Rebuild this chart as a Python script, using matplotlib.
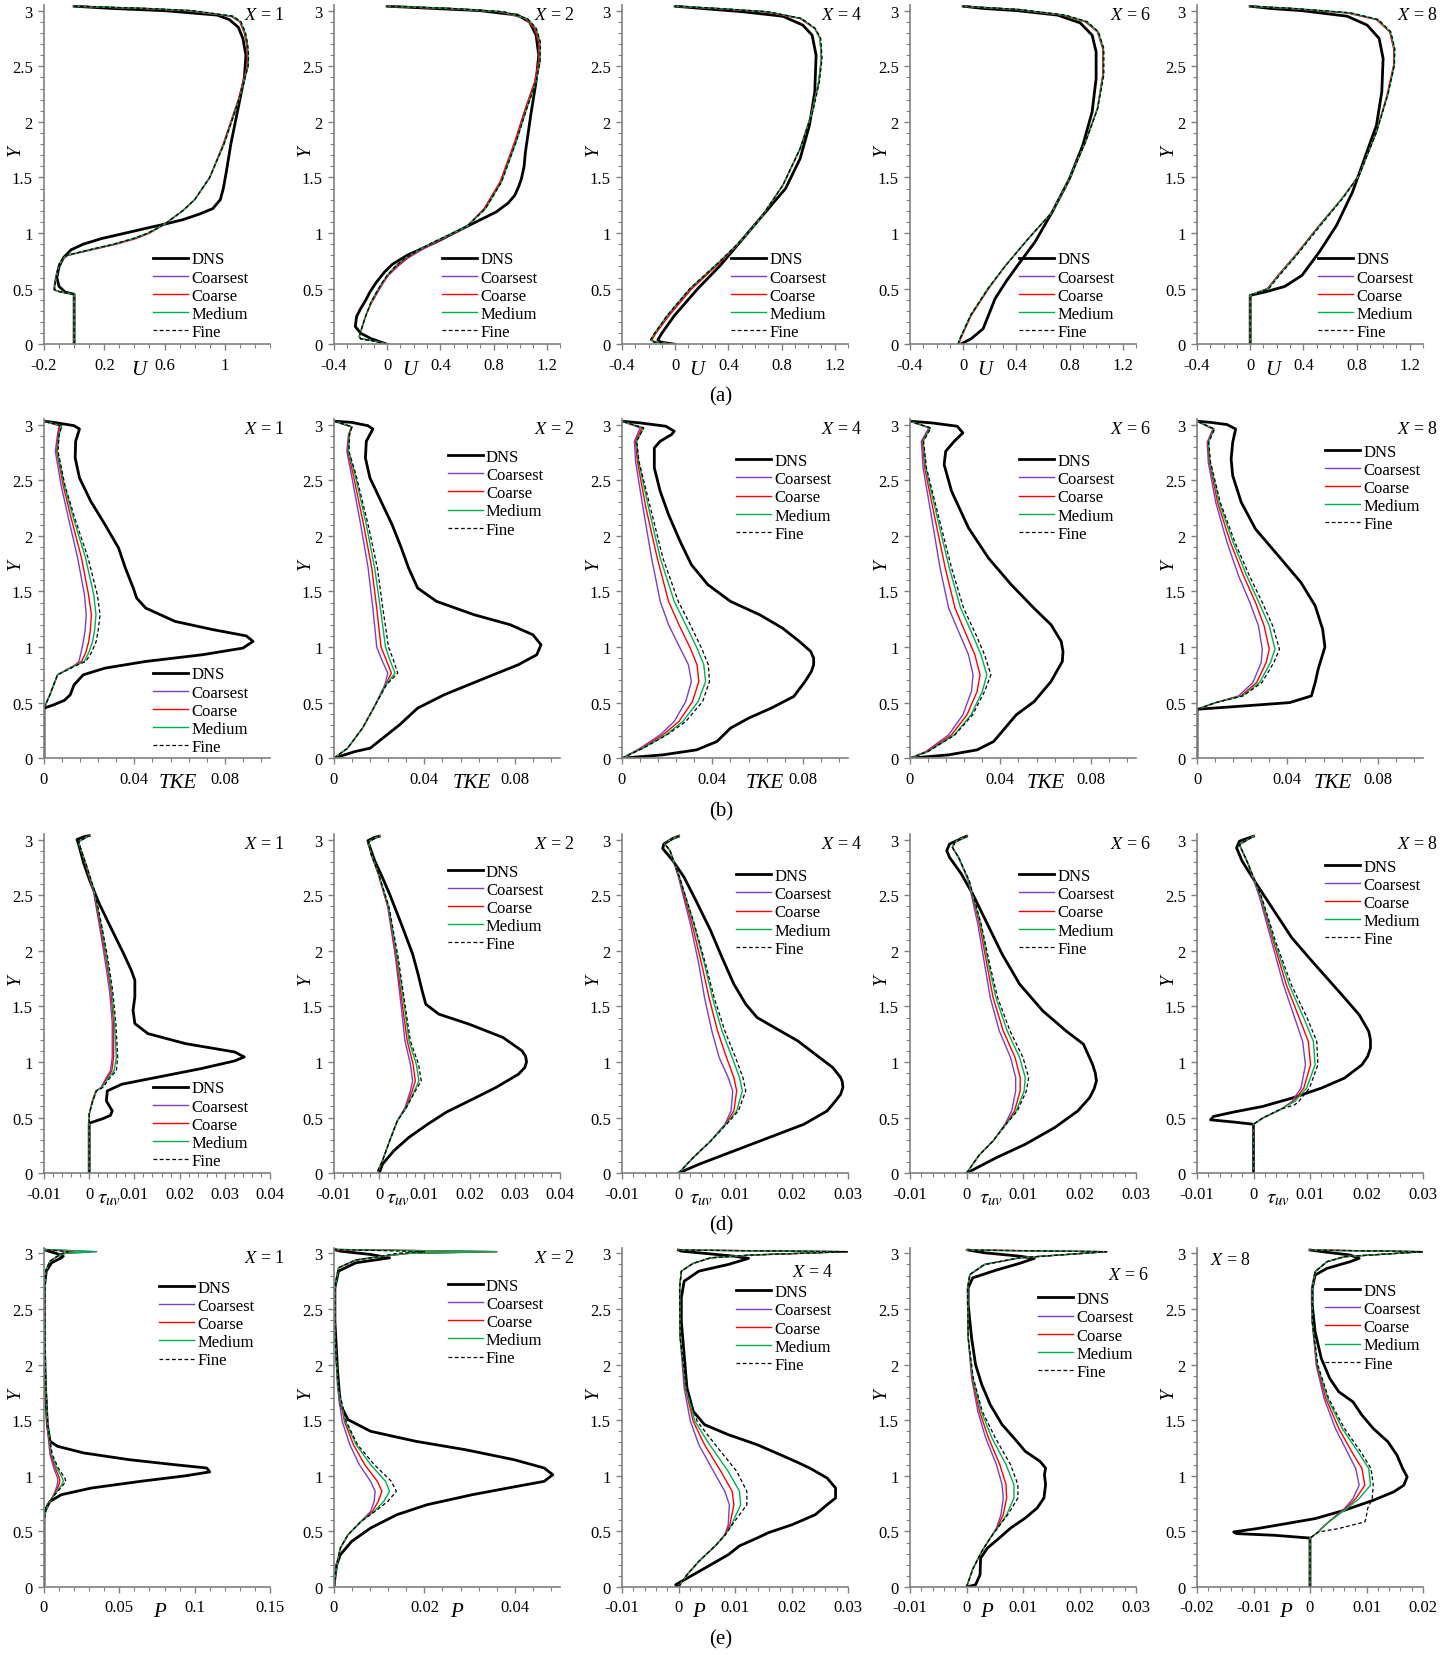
import matplotlib
matplotlib.use("Agg")
import matplotlib.pyplot as plt
from matplotlib.ticker import FixedLocator, MultipleLocator, FuncFormatter
from matplotlib.lines import Line2D

plt.rcParams['font.family'] = ['Liberation Serif', 'DejaVu Serif']
plt.rcParams['mathtext.fontset'] = 'stix'

# ---------------- (a) U profiles ----------------
A1_Y_DNS = [0, 0.45, 0.47, 0.52, 0.6, 0.7, 0.78, 0.85, 0.9, 0.95, 1.0, 1.05, 1.08, 1.12, 1.17, 1.22, 1.3, 1.4, 1.55, 1.8, 2.0, 2.2, 2.4, 2.6, 2.75, 2.85, 2.92, 2.96, 3.0, 3.02, 3.04]
A1_DNS = [0, 0, -0.06, -0.10, -0.115, -0.10, -0.07, -0.02, 0.06, 0.18, 0.34, 0.5, 0.6, 0.72, 0.83, 0.92, 0.97, 0.99, 1.01, 1.04, 1.07, 1.1, 1.13, 1.14, 1.12, 1.09, 1.03, 0.95, 0.6, 0.25, 0.0]
A1_Y = [0, 0.45, 0.47, 0.49, 0.55, 0.65, 0.72, 0.77, 0.8, 0.85, 0.9, 0.95, 1.0, 1.08, 1.2, 1.3, 1.5, 1.8, 2.0, 2.2, 2.4, 2.5, 2.6, 2.7, 2.8, 2.9, 2.95, 3.0, 3.02, 3.04]
A1_COARSEST = [0, 0, -0.09, -0.135, -0.13, -0.115, -0.1, -0.07, -0.04, 0.12, 0.28, 0.41, 0.5, 0.6, 0.72, 0.8, 0.9, 0.99, 1.04, 1.09, 1.13, 1.15, 1.15, 1.145, 1.13, 1.1, 1.04, 0.75, 0.45, 0.0]
A1_COARSE = [0, 0, -0.09, -0.132, -0.128, -0.113, -0.1, -0.072, -0.045, 0.11, 0.27, 0.4, 0.5, 0.6, 0.72, 0.8, 0.9, 0.99, 1.04, 1.09, 1.13, 1.15, 1.15, 1.145, 1.13, 1.1, 1.045, 0.76, 0.46, 0.0]
A1_MEDIUM = [0, 0, -0.09, -0.13, -0.126, -0.112, -0.1, -0.075, -0.05, 0.1, 0.26, 0.39, 0.49, 0.6, 0.72, 0.8, 0.9, 0.995, 1.045, 1.095, 1.135, 1.155, 1.155, 1.15, 1.135, 1.105, 1.05, 0.78, 0.48, 0.0]
A1_FINE = [0, 0, -0.09, -0.13, -0.126, -0.112, -0.1, -0.075, -0.05, 0.1, 0.26, 0.39, 0.49, 0.6, 0.72, 0.8, 0.9, 0.995, 1.045, 1.095, 1.135, 1.155, 1.158, 1.152, 1.138, 1.108, 1.055, 0.79, 0.49, 0.0]

A2_Y_DNS = [0, 0.05, 0.1, 0.16, 0.25, 0.32, 0.4, 0.47, 0.56, 0.65, 0.72, 0.8, 0.92, 1.06, 1.19, 1.27, 1.34, 1.42, 1.49, 1.6, 1.73, 2.06, 2.36, 2.6, 2.78, 2.9, 2.96, 3.0, 3.02, 3.04]
A2_DNS = [0, -0.12, -0.2, -0.24, -0.23, -0.2, -0.16, -0.13, -0.08, -0.02, 0.04, 0.15, 0.37, 0.6, 0.82, 0.91, 0.96, 0.99, 1.01, 1.03, 1.04, 1.08, 1.12, 1.14, 1.12, 1.07, 0.98, 0.7, 0.35, 0]
A2_Y = [0, 0.03, 0.05, 0.07, 0.15, 0.26, 0.37, 0.47, 0.55, 0.62, 0.7, 0.77, 0.85, 0.92, 1.06, 1.22, 1.46, 1.82, 2.12, 2.36, 2.54, 2.72, 2.84, 2.93, 2.99, 3.02, 3.04]
A2_COARSEST = [0, -0.1, -0.2, -0.21, -0.19, -0.16, -0.12, -0.07, -0.03, 0.01, 0.08, 0.15, 0.26, 0.37, 0.6, 0.73, 0.85, 0.96, 1.04, 1.11, 1.14, 1.14, 1.11, 1.04, 0.85, 0.45, 0]
A2_COARSE = [0, -0.1, -0.2, -0.21, -0.19, -0.16, -0.12, -0.075, -0.035, 0.005, 0.07, 0.14, 0.25, 0.36, 0.6, 0.73, 0.85, 0.96, 1.04, 1.11, 1.14, 1.14, 1.11, 1.04, 0.86, 0.46, 0]
A2_MEDIUM = [0, -0.1, -0.2, -0.21, -0.19, -0.16, -0.125, -0.08, -0.04, 0.0, 0.06, 0.13, 0.24, 0.35, 0.6, 0.74, 0.86, 0.97, 1.05, 1.12, 1.15, 1.15, 1.12, 1.05, 0.87, 0.48, 0]
A2_FINE = [0, -0.1, -0.2, -0.21, -0.19, -0.16, -0.125, -0.08, -0.04, 0.0, 0.06, 0.13, 0.24, 0.35, 0.6, 0.74, 0.86, 0.97, 1.05, 1.12, 1.15, 1.152, 1.122, 1.055, 0.88, 0.49, 0]

A3_Y_DNS = [0, 0.02, 0.04, 0.1, 0.26, 0.5, 0.71, 0.95, 1.19, 1.4, 1.67, 1.97, 2.27, 2.6, 2.78, 2.87, 2.95, 2.99, 3.02, 3.04]
A3_DNS = [0, -0.11, -0.13, -0.1, -0.005, 0.17, 0.34, 0.51, 0.68, 0.83, 0.94, 1.01, 1.05, 1.06, 1.03, 0.96, 0.81, 0.51, 0.2, 0]
A3_Y = [0, 0.02, 0.04, 0.1, 0.26, 0.5, 0.74, 0.95, 1.13, 1.43, 1.76, 2.09, 2.36, 2.57, 2.75, 2.84, 2.93, 2.99, 3.02, 3.04]
A3_COARSEST = [0, -0.155, -0.18, -0.15, -0.05, 0.12, 0.34, 0.51, 0.64, 0.81, 0.94, 1.03, 1.08, 1.1, 1.09, 1.05, 0.94, 0.68, 0.3, 0]
A3_COARSE = [0, -0.15, -0.175, -0.145, -0.045, 0.125, 0.34, 0.51, 0.64, 0.81, 0.94, 1.03, 1.08, 1.1, 1.09, 1.05, 0.94, 0.68, 0.3, 0]
A3_MEDIUM = [0, -0.16, -0.185, -0.155, -0.06, 0.11, 0.33, 0.51, 0.64, 0.81, 0.94, 1.03, 1.08, 1.1, 1.09, 1.05, 0.95, 0.7, 0.32, 0]
A3_FINE = [0, -0.16, -0.185, -0.155, -0.06, 0.11, 0.33, 0.51, 0.64, 0.81, 0.94, 1.035, 1.085, 1.105, 1.095, 1.055, 0.95, 0.7, 0.32, 0]

A4_Y_DNS = [0, 0.05, 0.14, 0.26, 0.41, 0.56, 0.71, 0.92, 1.19, 1.49, 1.79, 2.09, 2.39, 2.63, 2.78, 2.89, 2.96, 3.0, 3.02, 3.04]
A4_DNS = [-0.02, 0.06, 0.15, 0.19, 0.24, 0.32, 0.41, 0.54, 0.67, 0.8, 0.9, 0.97, 1.0, 1.0, 0.97, 0.88, 0.71, 0.41, 0.15, 0]
A4_Y = [0, 0.05, 0.26, 0.5, 0.71, 0.95, 1.19, 1.49, 1.82, 2.12, 2.42, 2.66, 2.81, 2.9, 2.96, 3.01, 3.04]
A4_COARSEST = [-0.035, -0.02, 0.06, 0.19, 0.32, 0.49, 0.67, 0.8, 0.92, 1.01, 1.05, 1.05, 1.01, 0.92, 0.75, 0.41, 0]
A4_COARSE = [-0.035, -0.02, 0.06, 0.19, 0.32, 0.49, 0.67, 0.8, 0.92, 1.01, 1.05, 1.05, 1.01, 0.92, 0.75, 0.41, 0]
A4_MEDIUM = [-0.04, -0.025, 0.055, 0.185, 0.32, 0.49, 0.67, 0.8, 0.92, 1.01, 1.055, 1.055, 1.015, 0.93, 0.76, 0.42, 0]
A4_FINE = [-0.04, -0.025, 0.055, 0.185, 0.32, 0.49, 0.67, 0.8, 0.92, 1.012, 1.058, 1.058, 1.018, 0.935, 0.77, 0.43, 0]

A5_Y_DNS = [0, 0.44, 0.47, 0.52, 0.62, 0.83, 1.07, 1.37, 1.67, 1.97, 2.27, 2.57, 2.75, 2.87, 2.95, 3.0, 3.02, 3.04]
A5_DNS = [0, 0, 0.11, 0.26, 0.39, 0.52, 0.65, 0.77, 0.86, 0.95, 0.99, 1.0, 0.97, 0.88, 0.73, 0.39, 0.15, 0]
A5_Y = [0, 0.44, 0.47, 0.5, 0.62, 0.8, 1.07, 1.31, 1.52, 1.91, 2.24, 2.51, 2.66, 2.81, 2.92, 2.98, 3.02, 3.04]
A5_COARSEST = [0, 0, 0.06, 0.13, 0.21, 0.34, 0.52, 0.69, 0.82, 0.95, 1.03, 1.08, 1.08, 1.05, 0.95, 0.73, 0.3, 0]
A5_COARSE = [0, 0, 0.06, 0.13, 0.21, 0.34, 0.52, 0.69, 0.82, 0.95, 1.03, 1.08, 1.08, 1.05, 0.95, 0.73, 0.3, 0]
A5_MEDIUM = [0, 0, 0.06, 0.135, 0.215, 0.345, 0.525, 0.69, 0.82, 0.95, 1.035, 1.085, 1.085, 1.055, 0.96, 0.75, 0.32, 0]
A5_FINE = [0, 0, 0.07, 0.14, 0.22, 0.35, 0.53, 0.695, 0.82, 0.95, 1.035, 1.085, 1.088, 1.058, 0.965, 0.76, 0.33, 0]

# ---------------- (b) TKE profiles ----------------
B1_Y_DNS = [0, 0.45, 0.48, 0.52, 0.57, 0.66, 0.75, 0.81, 0.87, 0.93, 0.99, 1.05, 1.1, 1.155, 1.23, 1.35, 1.44, 1.53, 1.71, 1.89, 2.1, 2.31, 2.52, 2.7, 2.85, 2.96, 2.99, 3.02, 3.03]
B1_DNS = [0, 0, 0.0043, 0.009, 0.0116, 0.0133, 0.0174, 0.027, 0.045, 0.07, 0.088, 0.0925, 0.0895, 0.075, 0.058, 0.045, 0.041, 0.0395, 0.036, 0.033, 0.027, 0.0207, 0.0157, 0.0138, 0.014, 0.0157, 0.0133, 0.0043, 0]
B1_Y = [0, 0.45, 0.57, 0.75, 0.84, 0.87, 0.95, 1.05, 1.15, 1.29, 1.47, 1.8, 2.16, 2.46, 2.76, 2.91, 2.99, 3.03]
B1_COARSEST = [0, 0, 0.0026, 0.006, 0.014, 0.0154, 0.0164, 0.0174, 0.0182, 0.0187, 0.0179, 0.0149, 0.0108, 0.0075, 0.005, 0.006, 0.0067, 0]
B1_COARSE = [0, 0, 0.0026, 0.006, 0.014, 0.0166, 0.0185, 0.0198, 0.0205, 0.021, 0.0197, 0.0166, 0.012, 0.0084, 0.0056, 0.0063, 0.007, 0]
B1_MEDIUM = [0, 0, 0.0026, 0.006, 0.0145, 0.0178, 0.0198, 0.0215, 0.0224, 0.023, 0.022, 0.0184, 0.013, 0.0089, 0.0059, 0.0067, 0.0079, 0]
B1_FINE = [0, 0, 0.0026, 0.006, 0.015, 0.0185, 0.021, 0.0231, 0.024, 0.0248, 0.0236, 0.0195, 0.0136, 0.0092, 0.0062, 0.0067, 0.0079, 0]

B2_Y_DNS = [0, 0.06, 0.09, 0.195, 0.3, 0.45, 0.57, 0.705, 0.84, 0.93, 1.02, 1.11, 1.2, 1.29, 1.41, 1.53, 1.71, 1.89, 2.1, 2.31, 2.52, 2.7, 2.85, 2.96, 2.99, 3.02, 3.03]
B2_DNS = [0, 0.0093, 0.016, 0.0225, 0.029, 0.037, 0.0487, 0.065, 0.0815, 0.0897, 0.0916, 0.088, 0.078, 0.062, 0.0454, 0.037, 0.033, 0.0298, 0.0257, 0.0208, 0.0159, 0.0139, 0.0143, 0.0172, 0.015, 0.0077, 0]
B2_Y = [0, 0.09, 0.27, 0.45, 0.66, 0.765, 0.9, 1.0, 1.35, 1.71, 2.1, 2.55, 2.76, 2.91, 2.98, 3.03]
B2_COARSEST = [0, 0.006, 0.0126, 0.0175, 0.0225, 0.0238, 0.0208, 0.0189, 0.0172, 0.0151, 0.0118, 0.0077, 0.0057, 0.0064, 0.0077, 0]
B2_COARSE = [0, 0.006, 0.0126, 0.0175, 0.0228, 0.0254, 0.0228, 0.0208, 0.0189, 0.0167, 0.0131, 0.0085, 0.0061, 0.0066, 0.0078, 0]
B2_MEDIUM = [0, 0.006, 0.0126, 0.0175, 0.023, 0.027, 0.0244, 0.0228, 0.0205, 0.018, 0.0143, 0.0093, 0.0064, 0.0068, 0.008, 0]
B2_FINE = [0, 0.006, 0.0126, 0.0175, 0.0232, 0.0282, 0.026, 0.0241, 0.0216, 0.0192, 0.0151, 0.0097, 0.0066, 0.0069, 0.008, 0]

B3_Y_DNS = [0, 0.03, 0.075, 0.15, 0.27, 0.36, 0.45, 0.555, 0.69, 0.78, 0.84, 0.9, 0.96, 1.05, 1.17, 1.29, 1.41, 1.56, 1.74, 1.95, 2.19, 2.4, 2.61, 2.79, 2.85, 2.91, 2.94, 2.985, 3.015, 3.03]
B3_DNS = [0, 0.018, 0.033, 0.042, 0.048, 0.056, 0.066, 0.076, 0.081, 0.0838, 0.0848, 0.0848, 0.0835, 0.0785, 0.071, 0.0609, 0.048, 0.038, 0.0307, 0.0257, 0.0206, 0.0169, 0.0143, 0.0143, 0.0169, 0.0219, 0.0231, 0.0194, 0.008, 0]
B3_Y = [0, 0.09, 0.21, 0.33, 0.51, 0.69, 0.84, 0.99, 1.2, 1.41, 1.8, 2.25, 2.67, 2.85, 2.97, 3.03]
B3_COARSEST = [0, 0.008, 0.0169, 0.0231, 0.0282, 0.0307, 0.0294, 0.0257, 0.0206, 0.0169, 0.0131, 0.0093, 0.006, 0.0055, 0.008, 0]
B3_COARSE = [0, 0.0088, 0.0181, 0.0252, 0.0312, 0.034, 0.0332, 0.0302, 0.0252, 0.0206, 0.0156, 0.0106, 0.0068, 0.006, 0.0088, 0]
B3_MEDIUM = [0, 0.0093, 0.0194, 0.0269, 0.0337, 0.037, 0.0362, 0.0332, 0.0282, 0.0231, 0.0169, 0.0118, 0.0073, 0.0065, 0.0096, 0]
B3_FINE = [0, 0.0093, 0.0199, 0.0282, 0.0357, 0.0387, 0.0382, 0.0352, 0.0302, 0.0249, 0.0181, 0.0126, 0.0075, 0.0065, 0.0096, 0]

B4_Y_DNS = [0, 0.03, 0.075, 0.15, 0.27, 0.39, 0.51, 0.69, 0.87, 0.96, 1.05, 1.2, 1.35, 1.56, 1.8, 2.07, 2.4, 2.64, 2.76, 2.85, 2.925, 2.985, 3.015, 3.03]
B4_DNS = [0, 0.0171, 0.0297, 0.037, 0.042, 0.047, 0.055, 0.0624, 0.0674, 0.0677, 0.0669, 0.0624, 0.0548, 0.0448, 0.0347, 0.0259, 0.0184, 0.0151, 0.0158, 0.0196, 0.0234, 0.0209, 0.0096, 0]
B4_Y = [0, 0.06, 0.21, 0.39, 0.6, 0.75, 0.93, 1.11, 1.35, 1.71, 2.16, 2.61, 2.85, 2.97, 3.03]
B4_COARSEST = [0, 0.007, 0.0171, 0.0234, 0.0272, 0.0279, 0.0259, 0.0221, 0.0171, 0.0133, 0.0096, 0.0058, 0.005, 0.0083, 0]
B4_COARSE = [0, 0.0075, 0.0184, 0.0252, 0.0297, 0.031, 0.0287, 0.0249, 0.0199, 0.0156, 0.011, 0.0065, 0.0055, 0.0088, 0]
B4_MEDIUM = [0, 0.008, 0.0196, 0.027, 0.032, 0.034, 0.0314, 0.0277, 0.0224, 0.0174, 0.0121, 0.007, 0.0058, 0.009, 0]
B4_FINE = [0, 0.008, 0.0199, 0.0277, 0.033, 0.0358, 0.033, 0.0292, 0.0237, 0.0184, 0.0128, 0.0073, 0.006, 0.0092, 0]

B5_Y_DNS = [0, 0.44, 0.47, 0.5, 0.56, 0.68, 0.8, 1.0, 1.16, 1.37, 1.58, 1.82, 2.06, 2.3, 2.54, 2.69, 2.84, 2.96, 3.0, 3.02, 3.03]
B5_DNS = [0, 0, 0.0209, 0.041, 0.0506, 0.0523, 0.0536, 0.0566, 0.0556, 0.0523, 0.046, 0.036, 0.0259, 0.0196, 0.0158, 0.0151, 0.0158, 0.0171, 0.0133, 0.0058, 0]
B5_Y = [0, 0.44, 0.5, 0.56, 0.68, 0.86, 0.98, 1.19, 1.4, 1.64, 1.94, 2.3, 2.66, 2.84, 2.96, 3.03]
B5_COARSEST = [0, 0, 0.0083, 0.0184, 0.0247, 0.0284, 0.0289, 0.0272, 0.0234, 0.0184, 0.0133, 0.0083, 0.005, 0.0045, 0.007, 0]
B5_COARSE = [0, 0, 0.0083, 0.0194, 0.0264, 0.0306, 0.032, 0.0297, 0.0259, 0.0206, 0.0148, 0.0091, 0.0055, 0.0048, 0.0073, 0]
B5_MEDIUM = [0, 0, 0.0083, 0.02, 0.0277, 0.0325, 0.0345, 0.032, 0.0274, 0.022, 0.016, 0.0098, 0.0058, 0.005, 0.0076, 0]
B5_FINE = [0, 0, 0.0083, 0.0204, 0.0287, 0.034, 0.0365, 0.0335, 0.0289, 0.0232, 0.0168, 0.0103, 0.006, 0.0052, 0.0078, 0]

# ---------------- (d) tau_uv profiles ----------------
D1_Y_DNS = [0, 0.45, 0.49, 0.52, 0.56, 0.65, 0.74, 0.8, 0.86, 0.94, 1.01, 1.045, 1.09, 1.165, 1.255, 1.345, 1.465, 1.585, 1.735, 1.825, 1.975, 2.215, 2.425, 2.635, 2.785, 2.965, 3.0, 3.025, 3.035]
D1_DNS = [0, 0, 0.003, 0.0047, 0.0051, 0.0038, 0.004, 0.0072, 0.0147, 0.0247, 0.0322, 0.0343, 0.0322, 0.0213, 0.013, 0.0101, 0.0097, 0.0101, 0.0101, 0.0093, 0.0076, 0.0047, 0.0022, 0.0001, -0.0012, -0.0024, -0.0027, -0.0012, 0]
D1_Y = [0, 0.53, 0.65, 0.74, 0.77, 0.86, 0.92, 1.04, 1.35, 1.64, 1.94, 2.24, 2.54, 2.78, 2.98, 3.035]
D1_COARSEST = [0, 0, 0.0007, 0.0015, 0.0026, 0.0038, 0.0047, 0.0051, 0.0051, 0.0045, 0.0034, 0.0022, 0.0009, -0.0008, -0.0024, 0]
D1_COARSE = [0, 0, 0.0007, 0.0015, 0.0027, 0.004, 0.005, 0.0054, 0.0054, 0.0048, 0.0037, 0.0024, 0.001, -0.0008, -0.0024, 0]
D1_MEDIUM = [0, 0, 0.0008, 0.0016, 0.0028, 0.0043, 0.0055, 0.006, 0.0056, 0.005, 0.0039, 0.0026, 0.0011, -0.0007, -0.0024, 0]
D1_FINE = [0, 0, 0.0008, 0.0016, 0.003, 0.0046, 0.006, 0.0063, 0.0059, 0.0052, 0.0041, 0.0027, 0.0012, -0.0007, -0.0024, 0]

D2_Y_DNS = [0, 0.08, 0.2, 0.32, 0.44, 0.55, 0.65, 0.77, 0.89, 0.95, 1.0, 1.05, 1.1, 1.22, 1.34, 1.43, 1.52, 1.64, 1.79, 1.97, 2.24, 2.51, 2.66, 2.81, 2.96, 2.99, 3.02, 3.03]
D2_DNS = [0, 0.0007, 0.0032, 0.0065, 0.0107, 0.0149, 0.0199, 0.0258, 0.0308, 0.0322, 0.0326, 0.0324, 0.0316, 0.0274, 0.0199, 0.0132, 0.0103, 0.0095, 0.0086, 0.0074, 0.0049, 0.0023, 0.0007, -0.001, -0.0023, -0.0025, -0.001, 0]
D2_Y = [0.02, 0.11, 0.29, 0.47, 0.59, 0.74, 0.83, 0.98, 1.19, 1.49, 1.94, 2.39, 2.69, 2.87, 2.98, 3.03]
D2_COARSEST = [-0.0003, 0.0007, 0.0023, 0.004, 0.0057, 0.0069, 0.0074, 0.0069, 0.0057, 0.0049, 0.0036, 0.0019, -0.0002, -0.0018, -0.0024, 0]
D2_COARSE = [-0.0003, 0.0007, 0.0023, 0.004, 0.0059, 0.0073, 0.008, 0.0075, 0.0062, 0.0052, 0.0038, 0.002, -0.0002, -0.0018, -0.0024, 0]
D2_MEDIUM = [-0.0003, 0.0007, 0.0023, 0.004, 0.006, 0.0078, 0.0088, 0.0082, 0.0066, 0.0056, 0.004, 0.0021, -0.0001, -0.0018, -0.0024, 0]
D2_FINE = [-0.0003, 0.0007, 0.0023, 0.004, 0.006, 0.008, 0.0093, 0.0087, 0.0069, 0.0058, 0.0042, 0.0022, -0.0001, -0.0018, -0.0024, 0]

D3_Y_DNS = [0, 0.08, 0.2, 0.32, 0.44, 0.56, 0.65, 0.71, 0.77, 0.82, 0.86, 0.95, 1.07, 1.19, 1.28, 1.4, 1.52, 1.7, 1.94, 2.18, 2.45, 2.66, 2.81, 2.92, 2.96, 3.01, 3.03]
D3_DNS = [0, 0.0036, 0.0098, 0.016, 0.0222, 0.0263, 0.0278, 0.0287, 0.0291, 0.029, 0.0287, 0.0273, 0.0242, 0.0211, 0.018, 0.0139, 0.0119, 0.0098, 0.0077, 0.0057, 0.0031, 0.001, -0.001, -0.0028, -0.0026, -0.001, 0]
D3_Y = [0, 0.14, 0.29, 0.44, 0.56, 0.74, 0.86, 1.04, 1.28, 1.58, 1.88, 2.24, 2.66, 2.9, 2.96, 3.0, 3.03]
D3_COARSEST = [0, 0.0026, 0.0057, 0.0082, 0.0093, 0.0096, 0.0088, 0.0072, 0.0059, 0.0046, 0.0036, 0.0021, 0.0, -0.0015, -0.0024, -0.0015, 0]
D3_COARSE = [0, 0.0026, 0.0057, 0.0083, 0.0098, 0.0103, 0.0098, 0.0085, 0.0069, 0.0054, 0.0041, 0.0024, 0.0001, -0.0015, -0.0024, -0.0015, 0]
D3_MEDIUM = [0, 0.0026, 0.0057, 0.0084, 0.0103, 0.0113, 0.0108, 0.0095, 0.0077, 0.006, 0.0046, 0.0027, 0.0002, -0.0015, -0.0024, -0.0015, 0]
D3_FINE = [0, 0.0026, 0.0057, 0.0085, 0.0106, 0.0119, 0.0114, 0.0101, 0.0082, 0.0063, 0.0048, 0.0028, 0.0002, -0.0015, -0.0024, -0.0015, 0]

D4_Y_DNS = [0, 0.14, 0.26, 0.41, 0.56, 0.68, 0.76, 0.83, 0.9, 0.98, 1.16, 1.28, 1.46, 1.7, 1.97, 2.24, 2.51, 2.69, 2.84, 2.9, 2.96, 3.01, 3.03]
D4_DNS = [0, 0.0053, 0.0104, 0.0156, 0.0197, 0.0218, 0.0226, 0.023, 0.0228, 0.0223, 0.0207, 0.0176, 0.0135, 0.0094, 0.0063, 0.0037, 0.0011, -0.0009, -0.003, -0.0035, -0.003, -0.0009, 0]
D4_Y = [0, 0.16, 0.29, 0.44, 0.56, 0.74, 0.86, 1.04, 1.28, 1.58, 1.88, 2.24, 2.63, 2.84, 2.93, 2.98, 3.03]
D4_COARSEST = [0, 0.0022, 0.0047, 0.0068, 0.008, 0.0087, 0.0087, 0.0078, 0.0058, 0.0042, 0.0032, 0.002, 0.0003, -0.0014, -0.0025, -0.002, 0]
D4_COARSE = [0, 0.0022, 0.0047, 0.0069, 0.0085, 0.0095, 0.0095, 0.0086, 0.0065, 0.0047, 0.0036, 0.0023, 0.0004, -0.0014, -0.0025, -0.002, 0]
D4_MEDIUM = [0, 0.0022, 0.0047, 0.007, 0.0088, 0.0102, 0.0104, 0.0094, 0.0072, 0.0052, 0.0039, 0.0025, 0.0004, -0.0014, -0.0025, -0.002, 0]
D4_FINE = [0, 0.0022, 0.0047, 0.007, 0.009, 0.0106, 0.011, 0.01, 0.0077, 0.0055, 0.0041, 0.0026, 0.0005, -0.0014, -0.0025, -0.002, 0]

D5_Y_DNS = [0, 0.44, 0.46, 0.48, 0.51, 0.55, 0.6, 0.675, 0.765, 0.855, 0.975, 1.05, 1.125, 1.2, 1.275, 1.425, 1.635, 1.875, 2.115, 2.355, 2.595, 2.805, 2.925, 2.985, 3.03]
D5_DNS = [0, 0, -0.0035, -0.0076, -0.0071, -0.0035, 0.0016, 0.0068, 0.012, 0.0161, 0.0192, 0.0202, 0.0207, 0.0207, 0.0204, 0.0187, 0.0151, 0.0109, 0.0068, 0.0037, 0.0006, -0.002, -0.003, -0.0025, 0]
D5_Y = [0, 0.44, 0.495, 0.57, 0.615, 0.645, 0.765, 0.975, 1.185, 1.395, 1.695, 2.085, 2.475, 2.775, 2.955, 3.03]
D5_COARSEST = [0, 0, 0.0016, 0.0047, 0.006, 0.0068, 0.0084, 0.0092, 0.0087, 0.0073, 0.0053, 0.0032, 0.0011, -0.0009, -0.0025, 0]
D5_COARSE = [0, 0, 0.0016, 0.0047, 0.0061, 0.0071, 0.0089, 0.0101, 0.0097, 0.0081, 0.0058, 0.0035, 0.0013, -0.0009, -0.0025, 0]
D5_MEDIUM = [0, 0, 0.0016, 0.0047, 0.0062, 0.0073, 0.0094, 0.0109, 0.0106, 0.0089, 0.0063, 0.0037, 0.0014, -0.0009, -0.0025, 0]
D5_FINE = [0, 0, 0.0016, 0.0045, 0.0073, 0.008, 0.0099, 0.0114, 0.0112, 0.0095, 0.0067, 0.0039, 0.0015, -0.0009, -0.0025, 0]

# ---------------- (e) P profiles ----------------
E1_Y_DNS = [0, 0.65, 0.71, 0.77, 0.83, 0.89, 0.95, 1.0, 1.035, 1.07, 1.1, 1.145, 1.205, 1.265, 1.31, 1.46, 1.79, 2.24, 2.69, 2.84, 2.915, 2.96, 2.975, 3.0, 3.02, 3.033]
E1_DNS = [0, 0, 0.0015, 0.004, 0.0115, 0.0315, 0.064, 0.094, 0.11, 0.108, 0.0865, 0.0565, 0.0265, 0.009, 0.004, 0.0022, 0.001, 0.0002, 0.0002, 0.0015, 0.005, 0.0115, 0.0128, 0.008, 0.003, 0]
E1_Y = [0, 0.6, 0.68, 0.77, 0.83, 0.905, 0.95, 0.98, 1.07, 1.19, 1.46, 1.94, 2.54, 2.84, 2.93, 2.975, 3.0, 3.015, 3.035]
E1_COARSEST = [0, 0, 0.001, 0.004, 0.0065, 0.0085, 0.0092, 0.009, 0.0065, 0.004, 0.002, 0.0008, 0.0005, 0.001, 0.004, 0.009, 0.014, 0.035, 0]
E1_COARSE = [0, 0, 0.001, 0.004, 0.0068, 0.0095, 0.0105, 0.0102, 0.0075, 0.0045, 0.0022, 0.0008, 0.0005, 0.001, 0.004, 0.009, 0.013, 0.02, 0]
E1_MEDIUM = [0, 0, 0.001, 0.004, 0.007, 0.011, 0.0128, 0.0122, 0.0085, 0.005, 0.0024, 0.0009, 0.0005, 0.001, 0.004, 0.009, 0.014, 0.034, 0]
E1_FINE = [0, 0, 0.001, 0.004, 0.0072, 0.012, 0.0145, 0.0138, 0.0095, 0.0055, 0.0025, 0.0009, 0.0005, 0.001, 0.004, 0.009, 0.012, 0.016, 0]

E2_Y_DNS = [0, 0.08, 0.2, 0.29, 0.41, 0.53, 0.65, 0.74, 0.83, 0.9, 0.95, 1.01, 1.07, 1.145, 1.235, 1.31, 1.4, 1.505, 1.64, 1.94, 2.39, 2.69, 2.84, 2.915, 2.96, 2.99, 3.02, 3.035]
E2_DNS = [0, 0.0002, 0.0006, 0.0014, 0.0039, 0.0081, 0.0139, 0.0206, 0.0306, 0.0398, 0.0465, 0.0484, 0.0465, 0.0398, 0.029, 0.0181, 0.0081, 0.0031, 0.0014, 0.0008, 0.0002, 0.0002, 0.001, 0.0048, 0.0123, 0.0081, 0.0014, 0]
E2_Y = [0, 0.2, 0.35, 0.47, 0.59, 0.68, 0.77, 0.86, 0.95, 1.1, 1.28, 1.49, 1.79, 2.24, 2.69, 2.87, 2.94, 2.97, 3.0, 3.015, 3.035]
E2_COARSEST = [0, 0.0006, 0.0014, 0.0031, 0.006, 0.0081, 0.0089, 0.0091, 0.0081, 0.0056, 0.0035, 0.0018, 0.0008, 0.0002, 0.0002, 0.001, 0.0048, 0.0098, 0.0165, 0.036, 0]
E2_COARSE = [0, 0.0006, 0.0014, 0.0031, 0.006, 0.0085, 0.0098, 0.0106, 0.0096, 0.0068, 0.0043, 0.0023, 0.0009, 0.0002, 0.0002, 0.001, 0.0048, 0.0098, 0.0165, 0.036, 0]
E2_MEDIUM = [0, 0.0006, 0.0014, 0.0031, 0.006, 0.0089, 0.011, 0.0123, 0.0114, 0.0081, 0.0049, 0.0025, 0.0009, 0.0002, 0.0002, 0.001, 0.0048, 0.0098, 0.0165, 0.036, 0]
E2_FINE = [0, 0.0006, 0.0014, 0.0031, 0.006, 0.0091, 0.0119, 0.0138, 0.0127, 0.0089, 0.0052, 0.0027, 0.001, 0.0002, 0.0002, 0.001, 0.0048, 0.0098, 0.014, 0.02, 0]

E3_Y_DNS = [0, 0.02, 0.05, 0.11, 0.2, 0.29, 0.37, 0.44, 0.49, 0.56, 0.65, 0.74, 0.8, 0.89, 0.98, 1.07, 1.12, 1.19, 1.28, 1.37, 1.46, 1.58, 1.79, 2.09, 2.39, 2.6, 2.75, 2.84, 2.9, 2.955, 2.975, 3.005, 3.02, 3.03]
E3_DNS = [0, -0.0005, 0.0005, 0.0026, 0.0057, 0.0088, 0.0108, 0.0139, 0.016, 0.0201, 0.0242, 0.0263, 0.0278, 0.0278, 0.0263, 0.0232, 0.0211, 0.018, 0.0139, 0.0088, 0.0046, 0.0026, 0.0015, 0.001, 0.0005, 0.0005, 0.001, 0.0036, 0.0088, 0.0124, 0.0098, 0.0036, 0.0005, 0]
E3_Y = [0, 0.11, 0.23, 0.38, 0.47, 0.56, 0.74, 0.86, 1.04, 1.28, 1.49, 1.79, 2.24, 2.69, 2.84, 2.91, 2.96, 2.985, 3.015, 3.03]
E3_COARSEST = [0, 0.0015, 0.0036, 0.0067, 0.0082, 0.0088, 0.009, 0.0082, 0.0062, 0.0036, 0.0021, 0.001, 0.0003, 0.0002, 0.0005, 0.0026, 0.0057, 0.0129, 0.0299, 0]
E3_COARSE = [0, 0.0015, 0.0036, 0.0067, 0.0082, 0.0091, 0.0098, 0.0095, 0.0075, 0.0046, 0.0026, 0.0012, 0.0003, 0.0002, 0.0005, 0.0026, 0.0057, 0.0129, 0.0299, 0]
E3_MEDIUM = [0, 0.0015, 0.0036, 0.0067, 0.0083, 0.0094, 0.011, 0.0108, 0.0088, 0.0055, 0.0029, 0.0013, 0.0003, 0.0002, 0.0005, 0.0026, 0.0057, 0.0129, 0.0299, 0]
E3_FINE = [0, 0.0015, 0.0036, 0.0067, 0.0083, 0.0095, 0.0121, 0.0121, 0.0103, 0.0065, 0.0033, 0.0014, 0.0003, 0.0002, 0.0005, 0.0026, 0.0057, 0.0129, 0.0299, 0]

E4_Y_DNS = [0, 0.02, 0.11, 0.26, 0.35, 0.44, 0.53, 0.62, 0.71, 0.8, 0.92, 1.01, 1.07, 1.13, 1.22, 1.34, 1.46, 1.64, 1.82, 2.0, 2.24, 2.54, 2.69, 2.78, 2.85, 2.91, 2.955, 2.975, 3.005, 3.03]
E4_DNS = [0, 0.0016, 0.0024, 0.0025, 0.0037, 0.0058, 0.0078, 0.0104, 0.0125, 0.0137, 0.014, 0.0138, 0.014, 0.013, 0.0104, 0.0084, 0.0063, 0.0042, 0.0027, 0.0016, 0.0009, 0.0003, 0.0003, 0.0011, 0.0053, 0.0094, 0.012, 0.0094, 0.0032, 0.0003]
E4_Y = [0, 0.16, 0.32, 0.44, 0.53, 0.65, 0.8, 0.92, 1.1, 1.34, 1.58, 1.88, 2.24, 2.69, 2.81, 2.9, 2.96, 3.015, 3.03]
E4_COARSEST = [0, 0.0011, 0.0027, 0.0042, 0.0053, 0.0061, 0.0065, 0.0063, 0.0053, 0.0034, 0.002, 0.0009, 0.0003, 0.0002, 0.0006, 0.0032, 0.0094, 0.0248, 0]
E4_COARSE = [0, 0.0011, 0.0027, 0.0042, 0.0054, 0.0065, 0.0071, 0.007, 0.0059, 0.0039, 0.0023, 0.001, 0.0003, 0.0002, 0.0006, 0.0032, 0.0094, 0.0248, 0]
E4_MEDIUM = [0, 0.0011, 0.0027, 0.0042, 0.0055, 0.0071, 0.0084, 0.0084, 0.007, 0.0045, 0.0026, 0.0011, 0.0003, 0.0002, 0.0006, 0.0032, 0.0094, 0.0248, 0]
E4_FINE = [0, 0.0011, 0.0027, 0.0042, 0.0055, 0.0073, 0.0091, 0.0091, 0.0078, 0.0051, 0.0028, 0.0012, 0.0003, 0.0002, 0.0006, 0.0032, 0.0094, 0.0248, 0]

E5_Y_DNS = [0, 0.44, 0.465, 0.48, 0.495, 0.525, 0.57, 0.615, 0.69, 0.78, 0.855, 0.915, 0.99, 1.065, 1.185, 1.305, 1.425, 1.545, 1.665, 1.755, 1.875, 2.055, 2.295, 2.535, 2.685, 2.805, 2.865, 2.925, 2.955, 2.985, 3.01, 3.03]
E5_DNS = [0, 0, -0.0063, -0.013, -0.0135, -0.0094, -0.0042, 0.0009, 0.0061, 0.0112, 0.0148, 0.0166, 0.0172, 0.0164, 0.0154, 0.0138, 0.0112, 0.0092, 0.0076, 0.0051, 0.0035, 0.002, 0.0009, 0.0004, 0.0004, 0.0009, 0.003, 0.0071, 0.0087, 0.0071, 0.003, 0]
E5_Y = [0, 0.44, 0.495, 0.525, 0.585, 0.615, 0.705, 0.795, 0.915, 1.065, 1.215, 1.425, 1.695, 1.995, 2.385, 2.685, 2.835, 2.925, 2.97, 3.015, 3.03]
E5_COARSEST = [0, 0, 0.0015, 0.002, 0.0033, 0.004, 0.0061, 0.0076, 0.0087, 0.0081, 0.0066, 0.0045, 0.0025, 0.0011, 0.0004, 0.0004, 0.0009, 0.003, 0.0061, 0.02, 0]
E5_COARSE = [0, 0, 0.0015, 0.002, 0.0033, 0.004, 0.0063, 0.0081, 0.0097, 0.0092, 0.0074, 0.0051, 0.0028, 0.0012, 0.0004, 0.0004, 0.0009, 0.003, 0.0061, 0.02, 0]
E5_MEDIUM = [0, 0, 0.0015, 0.002, 0.0033, 0.0041, 0.0065, 0.0087, 0.0107, 0.0104, 0.0085, 0.0057, 0.0031, 0.0013, 0.0004, 0.0004, 0.0009, 0.003, 0.0061, 0.02, 0]
E5_FINE = [0, 0, 0.0015, 0.005, 0.0097, 0.0099, 0.0102, 0.011, 0.0112, 0.0108, 0.009, 0.0061, 0.0033, 0.0014, 0.0004, 0.0004, 0.0009, 0.003, 0.0061, 0.02, 0]

# ---------------- axes / labels ----------------
STATIONS = ["1", "2", "4", "6", "8"]
SERIES = ["DNS", "Coarsest", "Coarse", "Medium", "Fine"]
ROW_TAGS = ["(a)", "(b)", "(d)", "(e)"]
ROW_VARS = ["U", "TKE", r"$\tau_{uv}$", "P"]

XLIMS = [
    [(-0.2, 1.3)] + [(-0.4, 1.3)] * 4,
    [(0, 0.1)] * 5,
    [(-0.01, 0.04)] * 2 + [(-0.01, 0.03)] * 3,
    [(0, 0.15), (0, 0.05), (-0.01, 0.03), (-0.01, 0.03), (-0.02, 0.02)],
]
XTICKS = [
    [[-0.2, 0.2, 0.6, 1.0]] + [[-0.4, 0, 0.4, 0.8, 1.2]] * 4,
    [[0, 0.04, 0.08]] * 5,
    [[-0.01, 0, 0.01, 0.02, 0.03, 0.04]] * 2 + [[-0.01, 0, 0.01, 0.02, 0.03]] * 3,
    [[0, 0.05, 0.1, 0.15], [0, 0.02, 0.04], [-0.01, 0, 0.01, 0.02, 0.03],
     [-0.01, 0, 0.01, 0.02, 0.03], [-0.02, -0.01, 0, 0.01, 0.02]],
]
XMINOR = [
    [0.1] * 5,
    [0.008] * 5,
    [0.002] * 5,
    [0.01, 0.004, 0.002, 0.002, 0.002],
]

# layout (pixels of the 1455 x 1656 canvas)
W, H = 1455, 1656
PANEL_LEFT = [44, 334, 622, 910, 1197]
ROW_ZERO = [345.3, 759.2, 1174.2, 1588.0]
AX_W, AX_H = 226, 339.2
CAPTION_Y = [397, 812, 1226, 1640]

XLABEL_POS = [
    [0.42, 0.335, 0.33, 0.33, 0.336],
    [0.59, 0.61, 0.63, 0.60, 0.60],
    [0.29, 0.285, 0.35, 0.36, 0.36],
    [0.51, 0.54, 0.34, 0.34, 0.39],
]
LEGEND_POS = [
    [(0.482, 0.143), (0.478, 0.143), (0.482, 0.143), (0.482, 0.143), (0.535, 0.143)],
    [(0.482, 0.140), (0.503, 0.781), (0.504, 0.769), (0.482, 0.769), (0.567, 0.797)],
    [(0.482, 0.143), (0.503, 0.782), (0.504, 0.769), (0.482, 0.769), (0.567, 0.797)],
    [(0.511, 0.775), (0.503, 0.781), (0.504, 0.762), (0.566, 0.741), (0.567, 0.766)],
]
STATION_POS = {(3, 2): (0.845, 0.930, "center"), (3, 3): (0.965, 0.921, "center"),
               (3, 4): (0.15, 0.965, "center")}

PURPLE, RED, GREEN = "#7B3FBF", "#FF0000", "#00B050"
AXIS_GRAY = "#808080"


def fmt(v, _):
    v = round(v, 6) + 0.0
    return "0" if v == 0 else f"{v:g}"


def main():
    g = globals()
    fig = plt.figure(figsize=(W / 100, H / 100), dpi=100)
    for r, rk in enumerate("ABDE"):
        for c in range(5):
            p = f"{rk}{c + 1}"
            ax = fig.add_axes([PANEL_LEFT[c] / W, 1 - ROW_ZERO[r] / H, AX_W / W, AX_H / H])
            ax.plot(g[p + "_DNS"], g[p + "_Y_DNS"], color="black", lw=2.0)
            ax.plot(g[p + "_COARSEST"], g[p + "_Y"], color=PURPLE, lw=1.0)
            ax.plot(g[p + "_COARSE"], g[p + "_Y"], color=RED, lw=1.0)
            ax.plot(g[p + "_MEDIUM"], g[p + "_Y"], color=GREEN, lw=1.0)
            ax.plot(g[p + "_FINE"], g[p + "_Y"], color="black", lw=0.9, ls=(0, (3, 2)))

            ax.set_xlim(*XLIMS[r][c])
            ax.set_ylim(0, 3.05)
            ax.xaxis.set_major_locator(FixedLocator(XTICKS[r][c]))
            ax.xaxis.set_minor_locator(MultipleLocator(XMINOR[r][c]))
            ax.xaxis.set_major_formatter(FuncFormatter(fmt))
            ax.yaxis.set_major_locator(MultipleLocator(0.5))
            ax.yaxis.set_minor_locator(MultipleLocator(0.1))
            ax.yaxis.set_major_formatter(FuncFormatter(fmt))
            for s in ("top", "right"):
                ax.spines[s].set_visible(False)
            for s in ("left", "bottom"):
                ax.spines[s].set_color(AXIS_GRAY)
                ax.spines[s].set_linewidth(1.2)
            ax.tick_params(which="both", direction="out", color=AXIS_GRAY, labelsize=12)
            ax.tick_params(which="major", length=4, width=1.0)
            ax.tick_params(which="minor", length=3, width=0.8)
            ax.tick_params(axis="x", pad=5)
            ax.tick_params(axis="y", pad=4)

            ax.set_ylabel("Y", fontstyle="italic", fontsize=14)
            ax.yaxis.set_label_coords(-0.088, 0.573)
            ax.text(XLABEL_POS[r][c], -0.073, ROW_VARS[r], transform=ax.transAxes,
                    ha="center", va="center", fontstyle="italic", fontsize=15)

            sx, sy, ha = STATION_POS.get((r, c), (1.065, 0.972, "right"))
            ax.text(sx, sy, r"$X$ = " + STATIONS[c], transform=ax.transAxes,
                    ha=ha, va="center", fontsize=13)

            handles = [
                Line2D([], [], color="black", lw=2.0),
                Line2D([], [], color=PURPLE, lw=1.0),
                Line2D([], [], color=RED, lw=1.0),
                Line2D([], [], color=GREEN, lw=1.0),
                Line2D([], [], color="black", lw=0.9, ls=(0, (3, 2))),
            ]
            ax.legend(handles, SERIES, loc="center left", bbox_to_anchor=LEGEND_POS[r][c],
                      frameon=False, fontsize=12, handlelength=2.1, handletextpad=0.2,
                      labelspacing=0.13, borderpad=0, borderaxespad=0)

        fig.text(721 / W, 1 - CAPTION_Y[r] / H, ROW_TAGS[r], ha="center", va="center", fontsize=15)

    fig.savefig("out.png", dpi=100)
    plt.close(fig)


if __name__ == "__main__":
    main()
